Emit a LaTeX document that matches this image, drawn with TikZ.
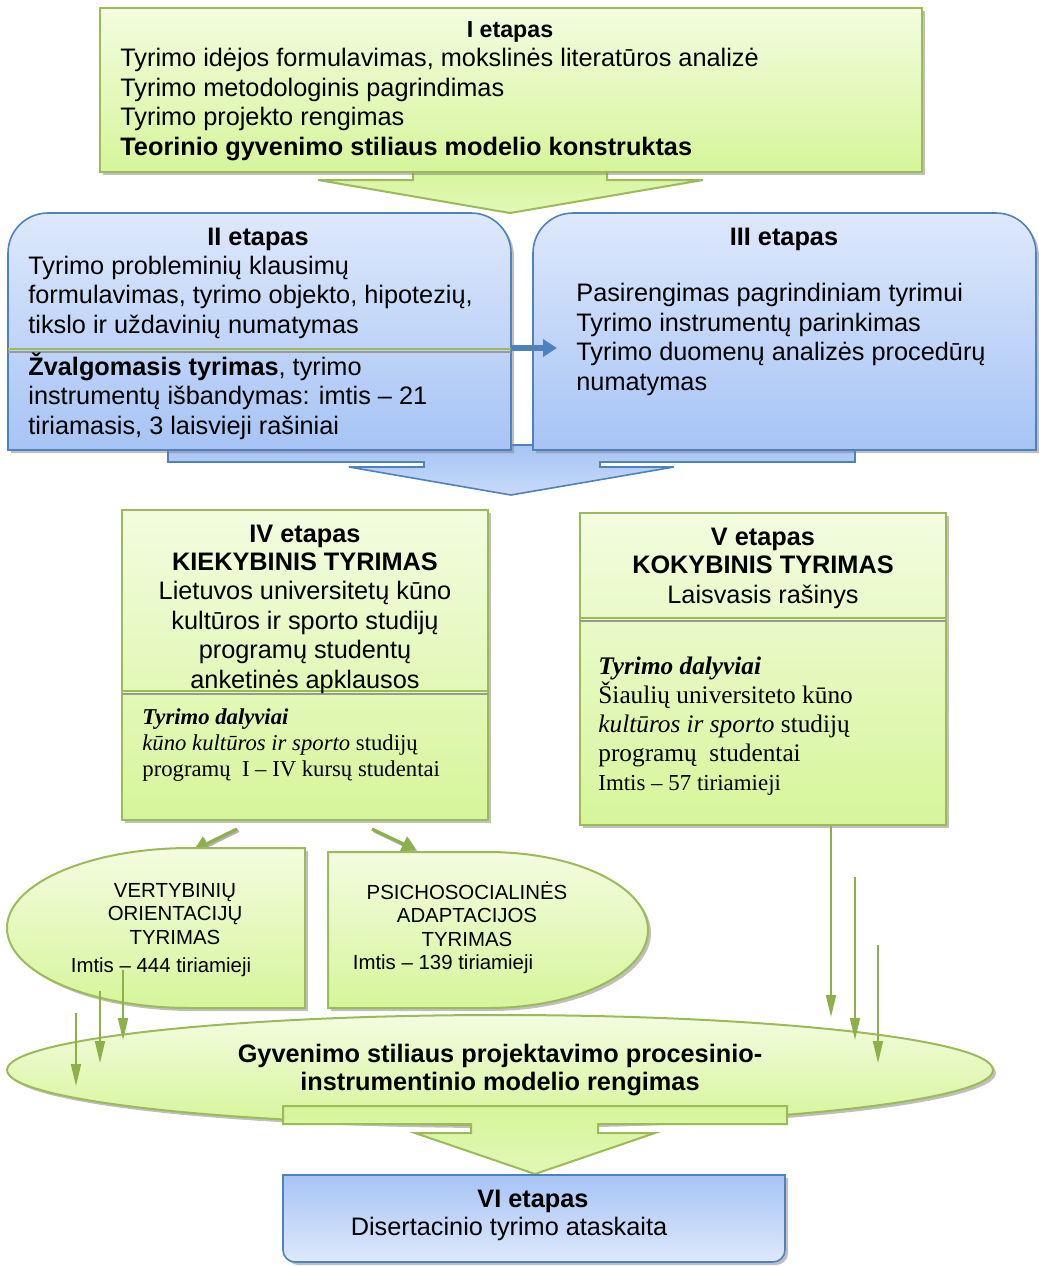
\documentclass[tikz,border=0pt]{standalone}
\usepackage{fontspec}
\setmainfont{Liberation Sans}
\newfontfamily\tnr{Liberation Serif}
\usepackage{tikz}
\usetikzlibrary{shapes.geometric, arrows.meta, shadows, positioning}

\definecolor{gtop}{HTML}{F3FCE0}
\definecolor{gbot}{HTML}{D6F59A}
\definecolor{gline}{HTML}{9BBB59}
\definecolor{garr}{HTML}{8CB04A}
\definecolor{btop}{HTML}{DEE8FB}
\definecolor{bbot}{HTML}{A6C4F5}
\definecolor{bline}{HTML}{4F81BD}

\tikzset{
  shdw/.style={drop shadow={shadow xshift=1.5pt, shadow yshift=-1.5pt, fill=black!50, opacity=.5}},
  gbox/.style={draw=gline, line width=1pt, top color=gtop, bottom color=gbot, shdw},
  bbox/.style={draw=bline, line width=0.8pt, top color=btop, bottom color=bbot, shdw},
  garrow/.style={draw=gline, line width=1pt, top color=gbot, bottom color=gbot!60!gtop},
  barrow/.style={draw=bline, line width=0.8pt, top color=bbot, bottom color=btop!60!bbot},
  txt/.style={inner sep=0pt, align=left, font=\fontsize{12.65}{14.7}\selectfont},
  hd/.style={inner sep=0pt, align=center, font=\bfseries\fontsize{12.65}{14}\selectfont},
  ser/.style={inner sep=0pt, align=left, font=\tnr\fontsize{11.35}{13}\selectfont},
  sml/.style={inner sep=0pt, align=center, font=\fontsize{10.2}{11.75}\selectfont},
  varr/.style={draw=garr, line width=0.9pt, -{Triangle[width=5pt,length=11pt]}},
  darr/.style={draw=garr, line width=1.6pt, -{Triangle[width=8pt,length=7pt]},
    preaction={draw=black!30, line width=1.6pt, transform canvas={shift={(0.8pt,-0.8pt)}}}},
  barr/.style={draw=bline, line width=3pt, -{Triangle[width=8.5pt,length=7pt]}},
}

\begin{document}
\begin{tikzpicture}[x=0.5pt, y=-0.5pt]
\useasboundingbox (0,0) rectangle (1039,1266);

% block arrows behind the boxes
\path[garrow] (413,165) -- (413,180) -- (318,180) -- (510,213) -- (703,180)
  -- (607,180) -- (607,165) -- cycle;
\path[barrow] (168,445) -- (168,462) -- (424,462) -- (424,467) -- (349,467)
  -- (511,495) -- (674,467) -- (600,467) -- (600,462) -- (855,462) -- (855,445) -- cycle;

% I etapas
\node[gbox, minimum width=411pt, minimum height=82pt, inner sep=0pt] (etapasI) at (511,90) {};
\node[hd, font=\bfseries\fontsize{11.6}{14}\selectfont, anchor=base] (ihd) at (510,37) {I etapas};
\node[txt, anchor=base west] (itxt) at (120,155) {Tyrimo idėjos formulavimas, mokslinės literatūros analizė\\
  Tyrimo metodologinis pagrindimas\\Tyrimo projekto rengimas\\
  \textbf{Teorinio gyvenimo stiliaus modelio konstruktas}};

% II ir III etapai
\path[bbox] (8,450) -- (8,253) arc[start angle=180, end angle=90, radius=20pt]
  -- (471,213) arc[start angle=90, end angle=0, radius=20pt] -- (511,450) -- cycle;
\path[bbox] (533,450) -- (533,253) arc[start angle=180, end angle=90, radius=20pt]
  -- (996,213) arc[start angle=90, end angle=0, radius=20pt] -- (1036,450) -- cycle;
\draw[gline, line width=1pt] (8,349) -- (511,349);
\draw[black!40, line width=1pt] (8,352) -- (511,352);
\coordinate (iiout) at (511,348);
\coordinate (iiiin) at (557,348);
\draw[barr] (iiout) -- (iiiin);

\node[hd, anchor=base] (iihd) at (258,245) {II etapas};
\node[txt, anchor=base west] (iitxt) at (28,333) {Tyrimo probleminių klausimų\\
  formulavimas, tyrimo objekto, hipotezių,\\tikslo ir uždavinių numatymas};
\node[txt, anchor=base west] (iitxtb) at (28,434) {\textbf{Žvalgomasis tyrimas}, tyrimo\\
  instrumentų išbandymas: imtis – 21\\tiriamasis, 3 laisvieji rašiniai};
\node[hd, anchor=base] (iiihd) at (784,245) {III etapas};
\node[txt, anchor=base west] (iiitxt) at (576,390) {Pasirengimas pagrindiniam tyrimui\\
  Tyrimo instrumentų parinkimas\\Tyrimo duomenų analizės procedūrų\\numatymas};

% IV ir V etapai
\node[gbox, minimum width=183pt, minimum height=155pt, inner sep=0pt] (etapasIV) at (305,665) {};
\node[gbox, minimum width=183pt, minimum height=156pt, inner sep=0pt] (etapasV) at (763,669) {};
\draw[gline, line width=1pt] (122,691) -- (488,691);
\draw[black!40, line width=1pt] (122,694) -- (488,694);
\draw[gline, line width=1pt] (580,618) -- (946,618);
\draw[black!40, line width=1pt] (580,621) -- (946,621);

\node[hd, anchor=base] (ivhd) at (305,570) {IV etapas\\KIEKYBINIS TYRIMAS};
\node[txt, align=center, anchor=base] (ivtxt) at (305,688) {Lietuvos universitetų kūno\\
  kultūros ir sporto studijų\\programų studentų\\anketinės apklausos};
\node[ser, anchor=base west] (ivdal) at (142,776) {\textbf{\textit{Tyrimo dalyviai}}\\
  \textit{kūno kultūros ir sporto} studijų\\programų~~I – IV kursų studentai};
\node[hd, anchor=base] (vhd) at (763,573) {V etapas\\KOKYBINIS TYRIMAS};
\node[txt, anchor=base] (vtxt) at (763,603) {Laisvasis rašinys};
\node[ser, font=\tnr\fontsize{12.65}{14.5}\selectfont, anchor=base west] (vdal) at (598,790)
  {\textbf{\textit{Tyrimo dalyviai}}\\Šiaulių universiteto kūno\\
  \textit{kultūros ir sporto} studijų\\programų~~studentai\\{\fontsize{11.45}{13}\selectfont Imtis – 57 tiriamieji}};

% tyrimai
\coordinate (vertin) at (194,850);
\coordinate (psichin) at (416,850);
\draw[darr] (etapasIV.south -| 237,0) ++(0,8) -- (vertin);
\draw[darr] (etapasIV.south -| 372,0) ++(0,8) -- (psichin);
\path[gbox] (305,848) -- (190,848) arc[start angle=90, end angle=270, x radius=91.5pt, y radius=40pt]
  -- (305,1008) -- cycle;
\path[gbox] (328,852) -- (488,852) arc[start angle=90, end angle=-90, x radius=80pt, y radius=39pt]
  -- (328,1008) -- cycle;
\node[sml, anchor=base] (vert) at (175,944) {VERTYBINIŲ\\ORIENTACIJŲ\\TYRIMAS};
\node[sml, anchor=base] (vertimt) at (161,972) {Imtis – 444 tiriamieji};
\node[sml, anchor=base] (psich) at (467,946) {PSICHOSOCIALINĖS\\ADAPTACIJOS\\TYRIMAS};
\node[sml, anchor=base] (psichimt) at (443,969) {Imtis – 139 tiriamieji};

% modelis
\node[ellipse, gbox, minimum width=493pt, minimum height=55pt, inner sep=0pt, align=center,
  font=\bfseries\fontsize{12.65}{14}\selectfont] (modelis) at (500,1070)
  {Gyvenimo stiliaus projektavimo procesinio-\\instrumentinio modelio rengimas};

\coordinate (r1e) at (831,1017);
\draw[varr] (etapasV.south -| r1e) -- (r1e);
\foreach \n/\x/\ya/\yb in {l1/123/970/1040, l2/100/991/1063, l3/76/1013/1086,
    r2/855/877/1040, r3/878/945/1063} {
  \coordinate (\n s) at (\x,\ya);
  \coordinate (\n e) at (\x,\yb);
  \draw[varr] (\n s) -- (\n e);
}

\path[garrow] (283,1106) -- (787,1106) -- (787,1124) -- (598,1124) -- (598,1133) -- (655,1133)
  -- (535,1174) -- (415,1133) -- (471,1133) -- (471,1124) -- (283,1124) -- cycle;

% VI etapas
\path[bbox, top color=bbot, bottom color=btop] (283,1175) -- (283,1250)
  arc[start angle=180, end angle=270, radius=6pt] -- (773,1262)
  arc[start angle=270, end angle=360, radius=6pt] -- (785,1175) -- cycle;
\node[hd, anchor=base] (vihd) at (533,1207) {VI etapas};
\node[txt, anchor=base] (vitxt) at (509,1235) {Disertacinio tyrimo ataskaita};
\end{tikzpicture}
\end{document}
